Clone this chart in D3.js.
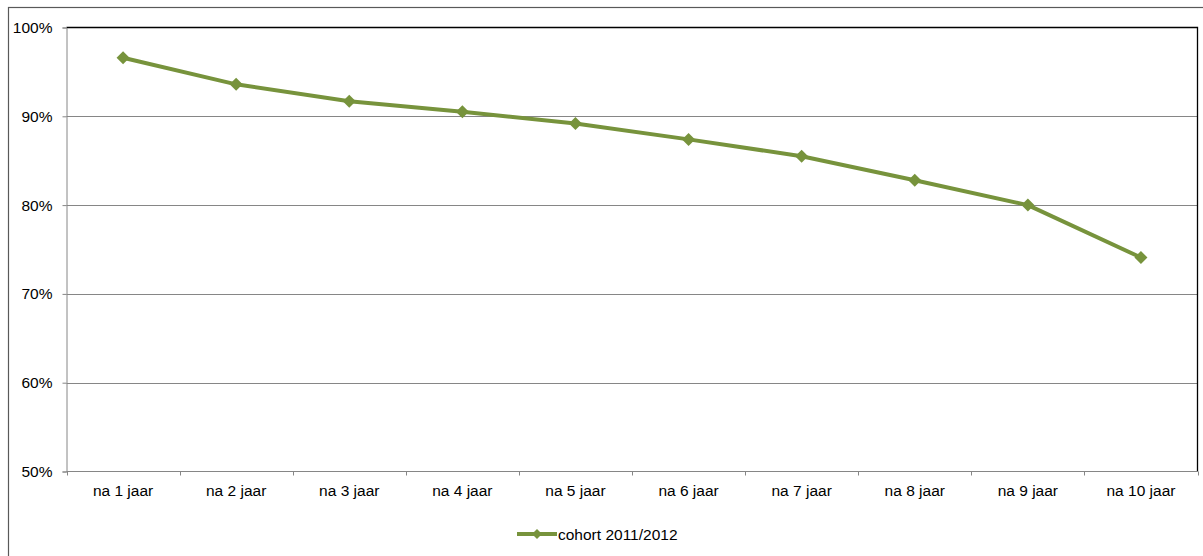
<!DOCTYPE html>
<html><head><meta charset="utf-8">
<script src="https://cdn.jsdelivr.net/npm/d3@7"></script>
<style>body{margin:0;background:#fff}svg{display:block}text{font-family:"Liberation Sans",Arial,sans-serif;fill:#000}</style>
</head><body>
<script>
const categories = ["na 1 jaar","na 2 jaar","na 3 jaar","na 4 jaar","na 5 jaar","na 6 jaar","na 7 jaar","na 8 jaar","na 9 jaar","na 10 jaar"];
const values = [0.966, 0.936, 0.917, 0.905, 0.892, 0.874, 0.855, 0.828, 0.800, 0.741];
const yTicks = [0.5, 0.6, 0.7, 0.8, 0.9, 1.0];
const seriesName = "cohort 2011/2012";

const W = 1203, H = 556;
const m = {left: 66.5, top: 27.5, right: 1197.5, bottom: 471.5};
const color = "#77933C";
const svg = d3.select("body").append("svg").attr("width", W).attr("height", H);

// outer border
svg.append("rect").attr("x", 8.5).attr("y", 7.5).attr("width", 1200).attr("height", 600)
  .attr("fill", "#fff").attr("stroke", "#595959").attr("stroke-width", 1.2);

const x = d3.scaleBand().domain(categories).range([m.left, m.right]);
const y = d3.scaleLinear().domain([0.5, 1.0]).range([m.bottom, m.top]);

// gridlines
svg.append("g").selectAll("line").data(yTicks.filter(d => d > 0.5 && d < 1)).join("line")
  .attr("x1", m.left).attr("x2", m.right)
  .attr("y1", d => Math.round(y(d)) + 0.5).attr("y2", d => Math.round(y(d)) + 0.5)
  .attr("stroke", "#868686").attr("stroke-width", 1);

// plot border top/right
svg.append("path").attr("d", `M${m.left},${m.top}H${m.right}V${m.bottom}`)
  .attr("fill", "none").attr("stroke", "#000").attr("stroke-width", 1.3);

// y axis
const yAxis = d3.axisLeft(y).tickValues(yTicks).tickFormat(d3.format(".0%")).tickSize(4).tickPadding(10);
const gy = svg.append("g").attr("transform", `translate(${m.left},0)`).call(yAxis);
gy.select(".domain").attr("stroke", "#868686");
gy.selectAll(".tick line").attr("stroke", "#868686");
gy.selectAll("text").attr("font-size", "15.5px").attr("font-family", "Liberation Sans, Arial, sans-serif").attr("fill", "#000");

// x axis
const xAxis = d3.axisBottom(x).tickSize(0).tickPadding(13);
const gx = svg.append("g").attr("transform", `translate(0,${m.bottom})`).call(xAxis);
gx.select(".domain").attr("stroke", "#868686").attr("d", `M${m.left},0H${m.right}`);
gx.selectAll("text").attr("font-size", "15.5px").attr("font-family", "Liberation Sans, Arial, sans-serif").attr("fill", "#000");
// boundary ticks
const bounds = categories.map(c => x(c)).concat([m.right]);
gx.append("g").selectAll("line").data(bounds).join("line")
  .attr("x1", d => Math.round(d) + 0.5).attr("x2", d => Math.round(d) + 0.5)
  .attr("y1", 0).attr("y2", 4).attr("stroke", "#868686");

// line
const cx = d => x(d.c) + x.bandwidth() / 2;
const data = categories.map((c, i) => ({c, v: values[i]}));
svg.append("path").datum(data)
  .attr("d", d3.line().x(cx).y(d => y(d.v)))
  .attr("fill", "none").attr("stroke", color).attr("stroke-width", 4).attr("stroke-linejoin", "round");

const diamond = (px, py, r) => `M${px},${py - r}L${px + r},${py}L${px},${py + r}L${px - r},${py}Z`;
svg.append("g").selectAll("path").data(data).join("path")
  .attr("d", d => diamond(cx(d), y(d.v), 6.5)).attr("fill", color);

// legend
const lg = svg.append("g");
lg.append("line").attr("x1", 517).attr("x2", 557).attr("y1", 534).attr("y2", 534)
  .attr("stroke", color).attr("stroke-width", 4);
lg.append("path").attr("d", diamond(537, 534, 5)).attr("fill", color);
lg.append("text").attr("x", 558).attr("y", 539.5).attr("font-size", "15.5px").text(seriesName);
</script>
</body></html>
